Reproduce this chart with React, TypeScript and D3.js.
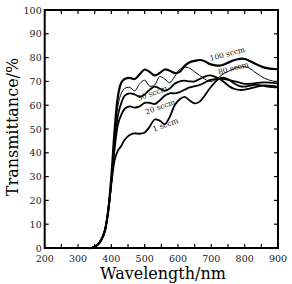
import { useRef, useEffect } from "react"
import * as d3 from "d3"

// wavelength grid (nm)
const wavelengths = [
  330, 340, 350, 360, 370, 380, 390, 400, 410, 420, 430, 440, 455, 470, 485, 500, 515, 530, 545, 560, 575, 590,
  605, 620, 635, 650, 665, 680, 695, 710, 725, 740, 755, 770, 785, 800, 815, 830, 845, 860, 875, 890, 900,
]

const sccm100 = [
  0, 0, 0.5, 1.5, 3.5, 7, 15, 30, 50, 64, 69.5, 71, 71.5, 71, 73, 75, 74, 72.5, 73.5, 75, 74.5, 73.5, 74, 76.5, 78,
  78.6, 79, 78.5, 77.3, 76.8, 76.6, 77.2, 78.2, 79, 79.5, 79.4, 78.6, 77.5, 76.6, 75.8, 75.4, 75.2, 75.2,
]
const sccm80 = [
  0, 0, 0.5, 1.5, 3.5, 7, 15, 29, 48, 60, 65, 67, 67.5, 66, 69, 70.5, 68, 68.5, 72, 71, 69.5, 72, 75, 76, 75.5, 74,
  72.5, 71, 70, 70.5, 72, 73.5, 74.5, 75.5, 76, 76.2, 75.5, 74, 72.5, 71.3, 70.5, 70, 69.9,
]
const sccm30 = [
  0, 0, 0.5, 1.5, 3.5, 7, 15, 28, 45, 56, 61, 64, 65, 64.5, 63.5, 64.5, 66.5, 67.8, 67, 66, 67, 69, 70, 70.3, 70,
  70, 71, 72, 72.5, 72, 71, 69.5, 67.8, 66.8, 66.4, 66.5, 67, 67.5, 68, 68.3, 68.2, 68, 67.8,
]
const sccm20 = [
  0, 0, 0.5, 1.5, 3.5, 7, 15, 28, 42, 52, 56, 58.5, 59.5, 59, 59.5, 61, 61, 60.5, 62, 64, 65, 65, 65.5, 66.5, 67.5,
  68, 68.5, 69.5, 70.5, 71, 71.2, 71, 70.5, 70, 69.5, 69, 69, 69.2, 69.5, 69.6, 69.5, 69.3, 69.2,
]
const sccm1 = [
  0, 0, 0.5, 1.5, 3.5, 7, 15, 27, 37, 41, 43, 45.5, 47.5, 48.2, 48, 48.5, 51, 54, 53.5, 52, 55, 60, 62.5, 63.5, 62,
  60.8, 61.5, 64, 67, 69.5, 71.3, 71.5, 70.5, 69, 68, 67.8, 68.2, 68.5, 68.4, 68, 67.7, 67.5, 67.5,
]

const seriesNames = ["100 sccm", "80 sccm", "30 sccm", "20 sccm", "1 sccm"]
const seriesValues = [sccm100, sccm80, sccm30, sccm20, sccm1]
const seriesWidths = [2.2, 1, 1.8, 1.8, 1.8]

// label anchor points [wavelength, transmittance, angle]
const labelPos = [
  [748, 81.6, -15],
  [766, 75.6, -15],
  [522, 65, -20],
  [546, 59.3, -20],
  [562, 51.8, -20],
]

const xTicks = [200, 300, 400, 500, 600, 700, 800, 900]
const yTicks = [0, 10, 20, 30, 40, 50, 60, 70, 80, 90, 100]

const FONT = "'DejaVu Serif', serif"

const App = () => {
  const svgRef = useRef<SVGSVGElement>(null)

  useEffect(() => {
    const svg = d3.select(svgRef.current)
    svg.selectAll("*").remove()

    const left = 44.7
    const right = 278
    const top = 10
    const bottom = 248

    const x = d3.scaleLinear().domain([200, 900]).range([left, right])
    const y = d3.scaleLinear().domain([0, 100]).range([bottom, top])

    // ticks, all pointing inward
    const tickLen = 4
    const minorX = d3.range(200, 901, 50)
    const g = svg.append("g").attr("stroke", "#000").attr("stroke-width", 1.2)
    minorX.forEach((v) => {
      g.append("line").attr("x1", x(v)).attr("x2", x(v)).attr("y1", bottom).attr("y2", bottom - tickLen)
      g.append("line").attr("x1", x(v)).attr("x2", x(v)).attr("y1", top).attr("y2", top + tickLen)
    })
    yTicks.forEach((v) => {
      g.append("line").attr("x1", left).attr("x2", left + tickLen).attr("y1", y(v)).attr("y2", y(v))
      g.append("line").attr("x1", right).attr("x2", right - tickLen).attr("y1", y(v)).attr("y2", y(v))
    })

    // frame
    svg
      .append("rect")
      .attr("x", left)
      .attr("y", top)
      .attr("width", right - left)
      .attr("height", bottom - top)
      .attr("fill", "none")
      .attr("stroke", "#000")
      .attr("stroke-width", 2)

    // tick labels
    svg
      .append("g")
      .selectAll("text")
      .data(xTicks)
      .enter()
      .append("text")
      .attr("x", (d) => x(d))
      .attr("y", bottom + 14)
      .attr("text-anchor", "middle")
      .style("font-family", FONT)
      .style("font-size", "9.5px")
      .style("fill", "#222")
      .text((d) => d)

    svg
      .append("g")
      .selectAll("text")
      .data(yTicks)
      .enter()
      .append("text")
      .attr("x", left - 3)
      .attr("y", (d) => y(d) + 3.5)
      .attr("text-anchor", "end")
      .style("font-family", FONT)
      .style("font-size", "9.5px")
      .style("fill", "#222")
      .text((d) => d)

    // axis titles
    svg
      .append("text")
      .attr("x", 163)
      .attr("y", 279)
      .attr("text-anchor", "middle")
      .style("font-family", FONT)
      .style("font-size", "16px")
      .text("Wavelength/nm")

    svg
      .append("text")
      .attr("transform", "translate(18,127) rotate(-90)")
      .attr("text-anchor", "middle")
      .style("font-family", FONT)
      .style("font-size", "16px")
      .text("Transmittance/%")

    // curves
    const line = d3
      .line<number>()
      .x((d, i) => x(wavelengths[i]))
      .y((d) => y(d))
      .curve(d3.curveCatmullRom.alpha(0.5))

    seriesValues.forEach((vals, k) => {
      svg
        .append("path")
        .datum(vals)
        .attr("fill", "none")
        .attr("stroke", "#000")
        .attr("stroke-width", seriesWidths[k])
        .attr("stroke-linejoin", "round")
        .attr("d", line)
    })

    // series labels
    seriesNames.forEach((name, k) => {
      const [lx, ly, ang] = labelPos[k]
      svg
        .append("text")
        .attr("transform", `translate(${x(lx)},${y(ly)}) rotate(${ang})`)
        .attr("text-anchor", "middle")
        .attr("dy", "0.35em")
        .style("font-family", FONT)
        .style("font-size", "7.5px")
        .style("fill", "#111")
        .text(name)
    })
  }, [])

  return (
    <svg
      ref={svgRef}
      width={292}
      height={284}
      style={{ position: "absolute", left: 0, top: 0, background: "#fff" }}
    ></svg>
  )
}

export default App
